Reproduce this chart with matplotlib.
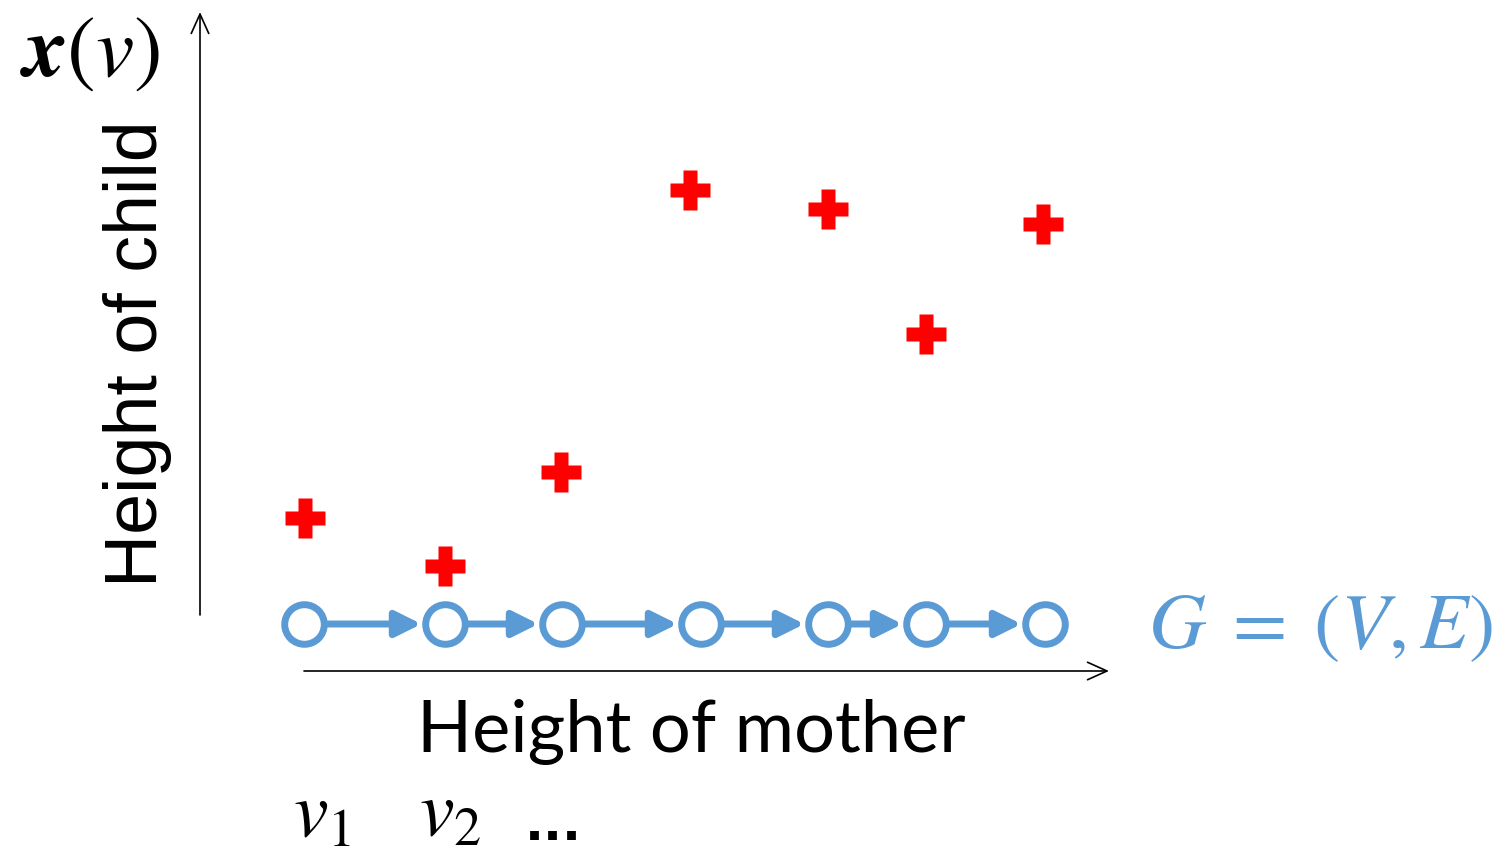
import matplotlib.pyplot as plt

plt.rcParams['mathtext.fontset'] = 'stix'

# height of mother (x) for each node v_i, and height of child x(v_i)
mother = [304, 445, 562, 701, 828, 926, 1045]
child_x = [305, 445, 561, 690, 828, 926, 1043]
child = [338, 290, 384, 666, 647, 522, 632]
graph_y = 232

blue = '#5B9BD5'

fig = plt.figure(figsize=(15, 8.56), dpi=100)
ax = fig.add_axes([0, 0, 1, 1])
ax.set_xlim(0, 1500)
ax.set_ylim(0, 856)
ax.axis('off')

# axes arrows
ax.annotate('', xy=(200, 844), xytext=(200, 241),
            arrowprops=dict(arrowstyle='->,head_length=1.0,head_width=0.45',
                            lw=1.2, color='black', shrinkA=0, shrinkB=0,
                            mutation_scale=14))
ax.annotate('', xy=(1109, 185), xytext=(304, 185),
            arrowprops=dict(arrowstyle='->,head_length=1.0,head_width=0.45',
                            lw=1.2, color='black', shrinkA=0, shrinkB=0,
                            mutation_scale=14))

# graph edges
for a, b in zip(mother[:-1], mother[1:]):
    ax.annotate('', xy=(b, graph_y), xytext=(a, graph_y),
                arrowprops=dict(arrowstyle='-|>,head_length=1.1,head_width=0.55',
                                lw=5, color=blue, shrinkA=16, shrinkB=17,
                                mutation_scale=14))

# graph nodes
ax.plot(mother, [graph_y] * len(mother), 'o', ms=28.5, mfc='white',
        mec=blue, mew=5, ls='none', zorder=5)

# signal values
ax.plot(child_x, child, 'P', ms=29, color='red', mec='none', ls='none')

# texts
ax.text(90, 804, r'$\boldsymbol{x}(v)$', fontsize=62, ha='center', va='center')
ax.text(138, 502, 'Height of child', fontsize=53, rotation=90,
        ha='center', va='center', family='Liberation Sans')
ax.text(691, 124, 'Height of mother', fontsize=52, ha='center', va='center',
        family='Lato')
ax.text(1320, 230, r'$G\;=\;(V,E)$', fontsize=57, ha='center', va='center',
        color=blue)
ax.text(322, 42, r'$v_1$', fontsize=56, ha='center', va='center')
ax.text(450, 42, r'$v_2$', fontsize=56, ha='center', va='center')
ax.text(553, 30, '...', fontsize=36, ha='center', va='center',
        family='DejaVu Sans', fontweight='bold')

fig.savefig('out.png', dpi=100)
